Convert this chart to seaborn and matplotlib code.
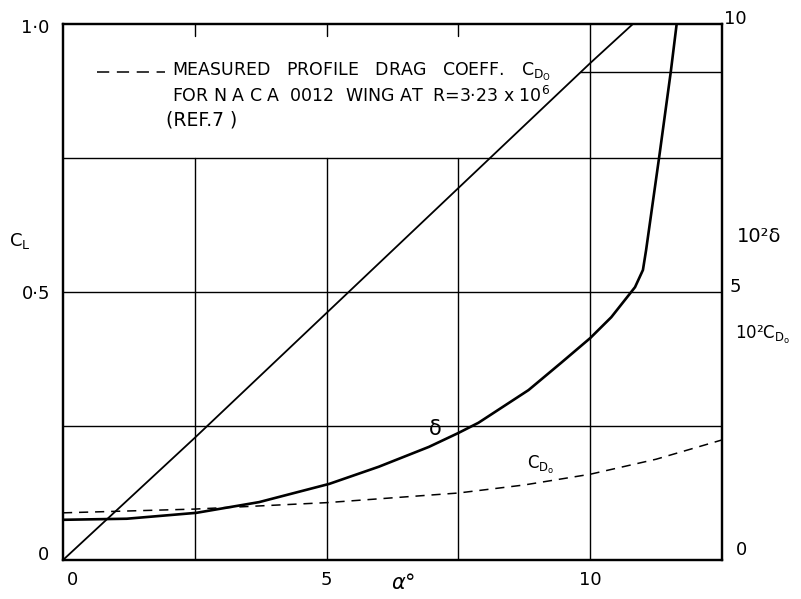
import matplotlib
matplotlib.use("Agg")
import matplotlib.pyplot as plt
import seaborn as sns
import pandas as pd

# Lift coefficient against incidence (left scale)
alpha_cl = [0.0, 2.5, 5.0, 7.5, 10.0, 10.81]
cl = [0.0, 0.228, 0.461, 0.694, 0.927, 1.0]

# 10^2 * delta against incidence (right scale)
alpha_delta = [0.0, 1.21, 2.53, 3.72, 5.05, 5.99, 6.94, 7.5, 7.88, 8.83, 9.45,
               10.0, 10.4, 10.85, 11.0, 11.06, 11.32, 11.53, 11.64]
delta = [0.75, 0.77, 0.88, 1.08, 1.42, 1.74, 2.11, 2.37, 2.56, 3.17, 3.68,
         4.14, 4.53, 5.09, 5.41, 5.78, 7.6, 9.12, 10.0]

# 10^2 * measured profile drag coefficient (right scale)
alpha_cdo = [0.0, 2.5, 5.0, 7.5, 8.75, 10.0, 11.25, 12.5]
cdo = [0.88, 0.95, 1.07, 1.25, 1.40, 1.60, 1.88, 2.24]

x_ticks = [0, 5, 10]
x_tick_labels = ["0", "5", "10"]

sns.set_style("white")
plt.rcParams["font.family"] = ["DejaVu Sans"]
plt.rcParams["mathtext.fontset"] = "dejavusans"
plt.rcParams["text.color"] = "black"

fig = plt.figure(figsize=(8.01, 5.99), dpi=100)
ax = fig.add_axes([63 / 801, 1 - 560 / 599, 659 / 801, 536 / 599])
ax2 = ax.twinx()

ink = "black"
dash = (0, (6, 4.5))

# grid: lower part of the field, with the notes area kept clear
for xv in [2.5, 5.0, 7.5]:
    ax.plot([xv, xv], [0, 0.75], color=ink, lw=1.0, zorder=1)
    ax.plot([xv, xv], [0.977, 1.0], color=ink, lw=1.0, zorder=1)
ax.plot([10, 10], [0, 1.0], color=ink, lw=1.0, zorder=1)
for yv in [0.25, 0.5, 0.75]:
    ax.plot([0, 12.5], [yv, yv], color=ink, lw=1.0, zorder=1)
ax.plot([9.8, 12.5], [0.91, 0.91], color=ink, lw=1.0, zorder=1)

df_cl = pd.DataFrame({"alpha": alpha_cl, "CL": cl})
sns.lineplot(data=df_cl, x="alpha", y="CL", ax=ax, color=ink, lw=1.3,
             sort=False, estimator=None)

df_d = pd.DataFrame({"alpha": alpha_delta, "delta": delta})
sns.lineplot(data=df_d, x="alpha", y="delta", ax=ax2, color=ink, lw=1.9,
             sort=False, estimator=None)

df_c = pd.DataFrame({"alpha": alpha_cdo, "cdo": cdo})
sns.lineplot(data=df_c, x="alpha", y="cdo", ax=ax2, color=ink, lw=1.1,
             sort=False, estimator=None, dashes=False, linestyle=dash)

ax.set_xlim(0, 12.5)
ax.set_ylim(0, 1.0)
ax2.set_ylim(0, 10)
for a in (ax, ax2):
    a.set_xlabel("")
    a.set_ylabel("")
    a.set_yticks([])
    a.tick_params(length=0)
    for s in a.spines.values():
        s.set_linewidth(1.6)
        s.set_color(ink)
ax.set_xticks([])

fs = 13
T = ax.transAxes
# tick labels drawn as lettering around the frame
for xv, lab in zip(x_ticks, x_tick_labels):
    ax.text(xv / 12.5 + (0.014 if xv == 0 else 0), -0.037, lab, transform=T,
            ha="center", va="center", fontsize=fs)
ax.text(0.516, -0.043, r"$\alpha$°", transform=T, ha="center", va="center", fontsize=fs + 2)
ax.text(-0.042, 0.993, "1·0", transform=T, ha="center", va="center", fontsize=fs)
ax.text(-0.041, 0.496, "0·5", transform=T, ha="center", va="center", fontsize=fs)
ax.text(-0.029, 0.009, "0", transform=T, ha="center", va="center", fontsize=fs)
ax.text(-0.065, 0.595, r"C$_\mathrm{L}$", transform=T, ha="center", va="center", fontsize=fs)
ax.text(1.02, 1.01, "10", transform=T, ha="center", va="center", fontsize=fs)
ax.text(1.02, 0.509, "5", transform=T, ha="center", va="center", fontsize=fs)
ax.text(1.03, 0.019, "0", transform=T, ha="center", va="center", fontsize=fs)
ax.text(1.056, 0.604, "10²δ", transform=T, ha="center", va="center", fontsize=fs + 1)
ax.text(1.062, 0.42, r"10²C$_{\mathrm{D}_\mathrm{o}}$", transform=T, ha="center",
        va="center", fontsize=fs - 1)

# curve labels
ax2.text(7.07, 2.45, "δ", ha="center", va="center", fontsize=fs + 2)
ax2.text(9.07, 1.77, r"C$_{\mathrm{D}_\mathrm{o}}$", ha="center", va="center", fontsize=fs - 1)

# notes block with its dashed sample line
nfs = 12.5
ax.plot([34 / 659, 102 / 659], [0.91, 0.91], transform=T, color=ink, lw=1.1,
        linestyle=(0, (8, 5)))
ax.text(0.165, 0.91,
        r"MEASURED   PROFILE   DRAG   COEFF.   C$_{\mathrm{D}_\mathrm{O}}$",
        transform=T, ha="left", va="center", fontsize=nfs)
ax.text(0.165, 0.865, r"FOR N A C A  0012  WING AT  R=3·23 x 10$^{6}$",
        transform=T, ha="left", va="center", fontsize=nfs)
ax.text(0.157, 0.82, "(REF.7 )", transform=T, ha="left", va="center", fontsize=nfs + 1)

fig.savefig("out.png", dpi=100)
